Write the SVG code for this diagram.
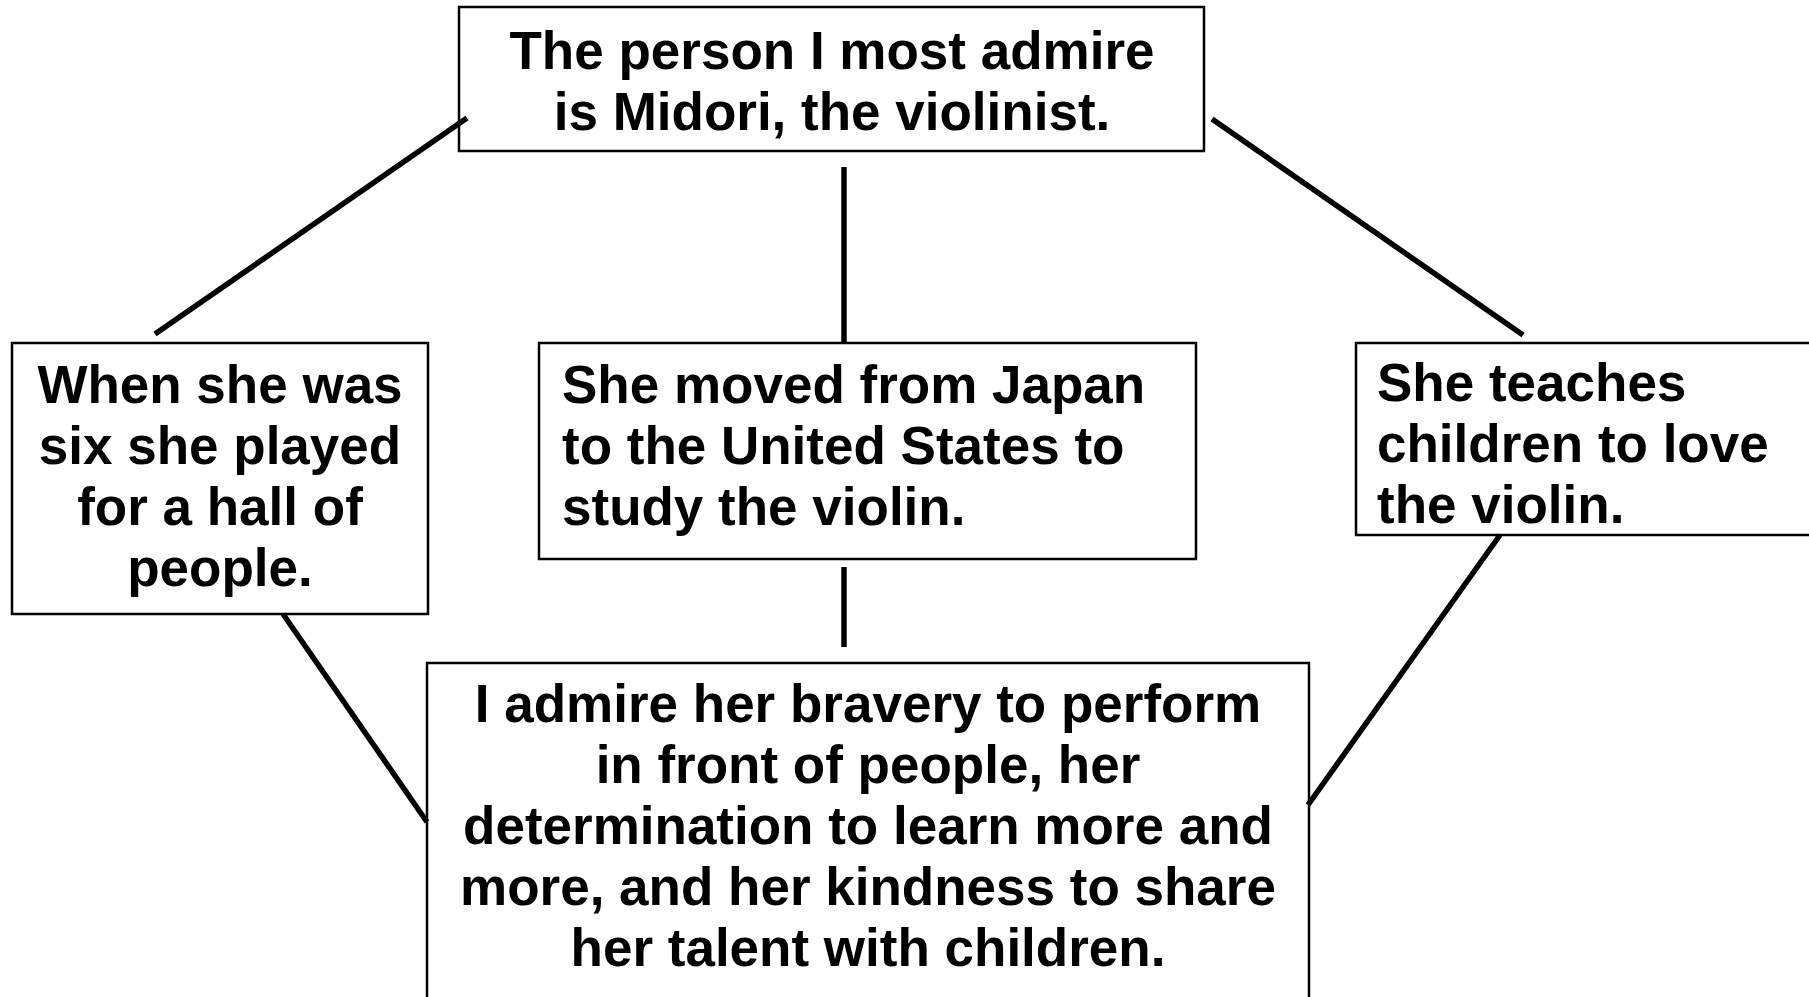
<svg xmlns="http://www.w3.org/2000/svg" width="1809" height="997" viewBox="0 0 1809 997">
<style>
.box{fill:#fff;stroke:#000;stroke-width:2.5}
.t{font-family:"Liberation Sans",Arial,sans-serif;font-weight:bold;font-size:53px;fill:#000}
.c{text-anchor:middle}
.conn line{stroke:#000;stroke-width:5.5;stroke-linecap:butt}
</style>
<rect width="1809" height="997" fill="#fff"/>
<g id="node-top">
<rect class="box" x="459" y="7" width="745" height="144"/>
<text class="t c" x="832" y="69">The person I most admire</text>
<text class="t c" x="832" y="130">is Midori, the violinist.</text>
</g>
<g id="node-left">
<rect class="box" x="12" y="343" width="416" height="271"/>
<text class="t c" x="220" y="403">When she was</text>
<text class="t c" x="220" y="464">six she played</text>
<text class="t c" x="220" y="525">for a hall of</text>
<text class="t c" x="220" y="586">people.</text>
</g>
<g id="node-middle">
<rect class="box" x="539" y="343" width="657" height="216"/>
<text class="t" x="562" y="403">She moved from Japan</text>
<text class="t" x="562" y="464">to the United States to</text>
<text class="t" x="562" y="525">study the violin.</text>
</g>
<g id="node-right">
<rect class="box" x="1356" y="343" width="470" height="192"/>
<text class="t" x="1377" y="401">She teaches</text>
<text class="t" x="1377" y="462">children to love</text>
<text class="t" x="1377" y="523">the violin.</text>
</g>
<g id="node-bottom">
<rect class="box" x="427" y="663" width="882" height="345"/>
<text class="t c" x="868" y="722">I admire her bravery to perform</text>
<text class="t c" x="868" y="783">in front of people, her</text>
<text class="t c" x="868" y="844">determination to learn more and</text>
<text class="t c" x="868" y="905">more, and her kindness to share</text>
<text class="t c" x="868" y="966">her talent with children.</text>
</g>
<g id="connectors" class="conn">
<line x1="467" y1="118" x2="155" y2="334"/>
<line x1="844" y1="167" x2="844" y2="343"/>
<line x1="1212" y1="119" x2="1523" y2="335"/>
<line x1="283" y1="614" x2="427" y2="822"/>
<line x1="844" y1="567" x2="844" y2="647"/>
<line x1="1500" y1="535" x2="1308" y2="805"/>
</g>
</svg>
